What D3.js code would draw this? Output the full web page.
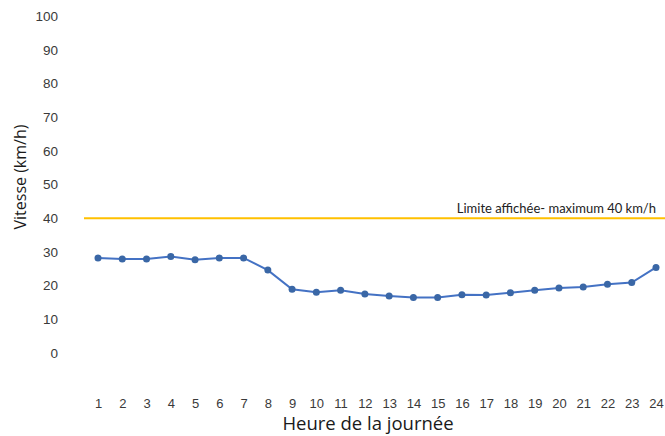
<!DOCTYPE html>
<html lang="fr">
<head>
<meta charset="utf-8">
<script src="https://cdn.jsdelivr.net/npm/d3@7"></script>
<style>
  html, body { margin: 0; padding: 0; background: #fff; }
  svg { display: block; }
</style>
</head>
<body>
<svg id="chart" width="665" height="436"></svg>
<script>
// Vitesse moyenne par heure de la journée
const hours = [1,2,3,4,5,6,7,8,9,10,11,12,13,14,15,16,17,18,19,20,21,22,23,24];
const speeds = [28.2,27.9,27.9,28.6,27.7,28.2,28.2,24.6,18.9,18.0,18.6,17.5,16.9,16.5,16.5,17.3,17.2,17.9,18.6,19.3,19.6,20.4,20.9,25.4];
const yTicks = [0,10,20,30,40,50,60,70,80,90,100];
const speedLimit = 40;
const limitLabel = "Limite affichée- maximum 40 km/h";
const xTitle = "Heure de la journée";
const yTitle = "Vitesse (km/h)";

const svg = d3.select("#chart");

const x = d3.scalePoint().domain(hours).range([98, 656]);
const y = d3.scaleLinear().domain([0, 100]).range([353, 16]);

// Axe vertical : étiquettes seulement
const yAxis = svg.append("g")
  .attr("transform", "translate(62,0)")
  .call(d3.axisLeft(y).tickValues(yTicks).tickSize(0).tickPadding(4));
yAxis.select(".domain").remove();
yAxis.selectAll("text")
  .attr("font-family", "Liberation Sans, Arial, sans-serif")
  .attr("font-size", 13.5)
  .attr("fill", "#3a3a3a");

// Axe horizontal : étiquettes seulement
const xAxis = svg.append("g")
  .attr("transform", "translate(0,397)")
  .call(d3.axisBottom(x).tickSize(0).tickPadding(2));
xAxis.select(".domain").remove();
xAxis.selectAll("text")
  .attr("font-family", "Liberation Sans, Arial, sans-serif")
  .attr("font-size", 13)
  .attr("fill", "#3a3a3a");

// Limite affichée
svg.append("line")
  .attr("x1", 84).attr("x2", 665)
  .attr("y1", y(speedLimit)).attr("y2", y(speedLimit))
  .attr("stroke", "#FFC000")
  .attr("stroke-width", 2);

svg.append("text")
  .attr("x", 656)
  .attr("y", y(speedLimit) - 5)
  .attr("text-anchor", "end")
  .attr("font-family", "Lato, 'Open Sans', sans-serif")
  .attr("font-size", 13)
  .attr("fill", "#222")
  .text(limitLabel);

// Série des vitesses
const data = hours.map((h, i) => ({ h, v: speeds[i] }));

svg.append("path")
  .datum(data)
  .attr("fill", "none")
  .attr("stroke", "#4472C4")
  .attr("stroke-width", 2)
  .attr("d", d3.line().x(d => x(d.h)).y(d => y(d.v)));

svg.append("g")
  .selectAll("circle")
  .data(data)
  .join("circle")
  .attr("cx", d => x(d.h))
  .attr("cy", d => y(d.v))
  .attr("r", 3.5)
  .attr("fill", "#3A67A6");

// Titres des axes
svg.append("text")
  .attr("x", 368)
  .attr("y", 430)
  .attr("text-anchor", "middle")
  .attr("font-family", "'Open Sans', Lato, sans-serif")
  .attr("font-size", 18.5)
  .attr("fill", "#1a1a1a")
  .text(xTitle);

svg.append("text")
  .attr("transform", "translate(26,177) rotate(-90)")
  .attr("text-anchor", "middle")
  .attr("font-family", "'Open Sans', Lato, sans-serif")
  .attr("font-size", 16)
  .attr("fill", "#1a1a1a")
  .text(yTitle);
</script>
</body>
</html>
